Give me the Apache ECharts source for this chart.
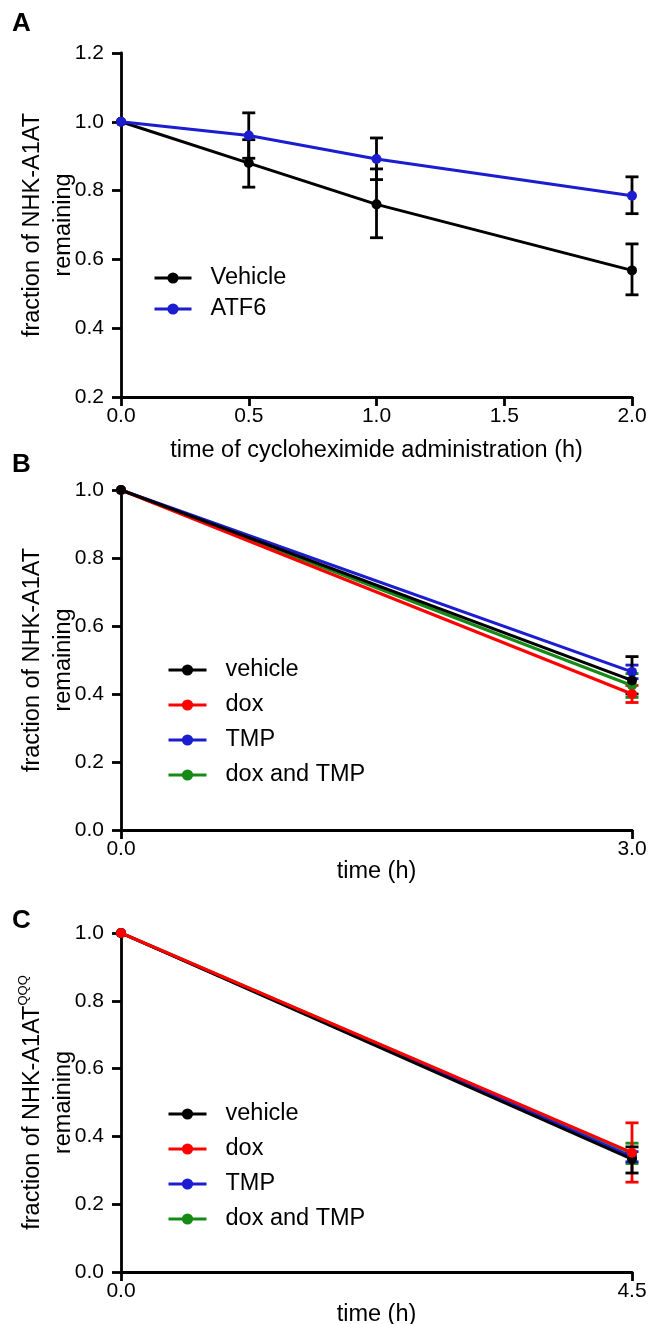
<!DOCTYPE html>
<html>
<head>
<meta charset="utf-8">
<script src="https://cdn.jsdelivr.net/npm/echarts@6/dist/echarts.min.js"></script>
<style>
html,body{margin:0;padding:0;background:#fff;}
#chart{width:650px;height:1324px;}
</style>
</head>
<body>
<div id="chart"></div>
<script>
// ---------- Panel A ----------
const xA = [0, 0.5, 1.0, 2.0];
const vehicleA = [1.0, 0.88, 0.76, 0.568];
const vehicleALo = [null, 0.81, 0.663, 0.497];
const vehicleAHi = [null, 0.948, 0.863, 0.645];
const atf6A = [1.0, 0.96, 0.892, 0.785];
const atf6ALo = [null, 0.894, 0.832, 0.733];
const atf6AHi = [null, 1.026, 0.953, 0.84];

// ---------- Panel B ----------
const xB = [0, 3.0];
const vehicleB = [1.0, 0.44];
const vehicleBLo = [null, 0.40];
const vehicleBHi = [null, 0.51];
const doxB = [1.0, 0.40];
const doxBLo = [null, 0.375];
const doxBHi = [null, 0.425];
const tmpB = [1.0, 0.465];
const tmpBLo = [null, 0.445];
const tmpBHi = [null, 0.485];
const doxTmpB = [1.0, 0.425];
const doxTmpBLo = [null, 0.39];
const doxTmpBHi = [null, 0.46];

// ---------- Panel C ----------
const xC = [0, 4.5];
const vehicleC = [1.0, 0.333];
const vehicleCLo = [null, 0.292];
const vehicleCHi = [null, 0.369];
const doxC = [1.0, 0.352];
const doxCLo = [null, 0.265];
const doxCHi = [null, 0.44];
const tmpC = [1.0, 0.34];
const tmpCLo = [null, 0.325];
const tmpCHi = [null, 0.355];
const doxTmpC = [1.0, 0.35];
const doxTmpCLo = [null, 0.32];
const doxTmpCHi = [null, 0.38];

const legendA = ['Vehicle', 'ATF6'];
const legendBC = ['vehicle', 'dox', 'TMP', 'dox and TMP'];

const FONT = 'Liberation Sans, Arial, Helvetica, sans-serif';
const BLACK = '#000000';
const BLUE = '#1c1cd0';
const RED = '#ff0000';
const GREEN = '#158a15';
const TICK_FS = 21;
const TEXT_FS = 23.5;

const chart = echarts.init(document.getElementById('chart'), null, {renderer: 'canvas'});

function pts(xs, ys) { return xs.map((x, i) => [x, ys[i]]); }
function errPts(xs, lo, hi) {
  const out = [];
  xs.forEach((x, i) => { if (lo[i] != null) out.push([x, lo[i], hi[i]]); });
  return out;
}

function lineSeries(name, xs, ys, color, idx, z) {
  return {
    type: 'line', name: name, data: pts(xs, ys),
    xAxisIndex: idx, yAxisIndex: idx,
    symbol: 'circle', symbolSize: 10, showSymbol: true,
    lineStyle: {color: color, width: 3},
    itemStyle: {color: color},
    z: z, animation: false, silent: true
  };
}

function errSeries(xs, lo, hi, color, idx, z) {
  return {
    type: 'custom', name: '_err', xAxisIndex: idx, yAxisIndex: idx,
    data: errPts(xs, lo, hi), encode: {x: 0, y: [1, 2]},
    z: z, animation: false, silent: true,
    renderItem: function (params, api) {
      const x = api.value(0), lo = api.value(1), hi = api.value(2);
      const p1 = api.coord([x, hi]);
      const p2 = api.coord([x, lo]);
      const w = 6.5;
      const st = {stroke: color, lineWidth: 2.8};
      return {type: 'group', children: [
        {type: 'line', shape: {x1: p1[0], y1: p1[1], x2: p2[0], y2: p2[1]}, style: st},
        {type: 'line', shape: {x1: p1[0] - w, y1: p1[1], x2: p1[0] + w, y2: p1[1]}, style: st},
        {type: 'line', shape: {x1: p2[0] - w, y1: p2[1], x2: p2[0] + w, y2: p2[1]}, style: st}
      ]};
    }
  };
}

const axisLine = {show: true, onZero: false, lineStyle: {color: BLACK, width: 2.8}};
const axisTick = {show: true, inside: false, length: 9, lineStyle: {color: BLACK, width: 2.8}};
const lblStyle = {color: BLACK, fontSize: TICK_FS, fontFamily: FONT};

function xAxisDef(idx, max, interval, name, nameGap) {
  return {
    type: 'value', gridIndex: idx, min: 0, max: max, interval: interval,
    axisLine: axisLine, axisTick: axisTick, splitLine: {show: false},
    axisLabel: Object.assign({margin: 9, formatter: v => v.toFixed(1)}, lblStyle),
    name: name, nameLocation: 'middle', nameGap: nameGap, nameMoveOverlap: false,
    nameTextStyle: {color: BLACK, fontSize: TEXT_FS, fontFamily: FONT}
  };
}
function yAxisDef(idx, min, max, nameObj) {
  return Object.assign({
    type: 'value', gridIndex: idx, min: min, max: max, interval: 0.2,
    axisLine: axisLine, axisTick: axisTick, splitLine: {show: false},
    axisLabel: Object.assign({margin: 17, formatter: v => v.toFixed(1)}, lblStyle),
    nameLocation: 'middle', nameRotate: 90, nameGap: 42, nameMoveOverlap: false
  }, nameObj);
}

const yNamePlain = {
  name: 'fraction of NHK-A1AT\nremaining',
  nameTextStyle: {color: BLACK, fontSize: TEXT_FS, fontFamily: FONT, lineHeight: 31, align: 'center'}
};
const yNameC = {
  name: '{a|fraction of NHK-A1AT}{s|QQQ}\n{a|remaining}',
  nameTextStyle: {
    color: BLACK, fontSize: TEXT_FS, fontFamily: FONT, lineHeight: 31, align: 'center',
    rich: {
      a: {color: BLACK, fontSize: TEXT_FS, fontFamily: FONT, lineHeight: 31},
      s: {color: BLACK, fontSize: 13, fontFamily: FONT, lineHeight: 31, verticalAlign: 'top', padding: [0, 0, 14, 0]}
    }
  }
};

function legendDef(data, left, top, gap, itemW) {
  return {
    data: data, orient: 'vertical', left: left, top: top,
    itemGap: gap, itemWidth: itemW, itemHeight: 14,
    lineStyle: {width: 3},
    textStyle: {color: BLACK, fontSize: TEXT_FS, fontFamily: FONT, lineHeight: 23, padding: [0, 0, 0, 14]},
    selectedMode: false, padding: 0
  };
}

const gridBase = {outerBoundsMode: 'none', containLabel: false};

const option = {
  backgroundColor: '#ffffff',
  animation: false,
  grid: [
    Object.assign({left: 121, top: 53, width: 511, height: 344}, gridBase),
    Object.assign({left: 121, top: 490, width: 511, height: 340}, gridBase),
    Object.assign({left: 121, top: 933, width: 511, height: 339}, gridBase)
  ],
  xAxis: [
    xAxisDef(0, 2.0, 0.5, 'time of cycloheximide administration (h)', 42),
    xAxisDef(1, 3.0, 3.0, 'time (h)', 30),
    xAxisDef(2, 4.5, 4.5, 'time (h)', 31)
  ],
  yAxis: [
    yAxisDef(0, 0.2, 1.2, yNamePlain),
    yAxisDef(1, 0, 1.0, yNamePlain),
    yAxisDef(2, 0, 1.0, yNameC)
  ],
  legend: [
    legendDef(legendA, 153, 266, 7, 37),
    legendDef(legendBC, 167, 658, 11, 38),
    legendDef(legendBC, 167, 1102, 11, 38)
  ],
  graphic: [
    {type: 'text', left: 12, top: 11, style: {text: 'A', fill: BLACK, font: 'bold 26px ' + FONT}},
    {type: 'text', left: 12, top: 452, style: {text: 'B', fill: BLACK, font: 'bold 26px ' + FONT}},
    {type: 'text', left: 12, top: 908, style: {text: 'C', fill: BLACK, font: 'bold 26px ' + FONT}}
  ],
  series: [
    // Panel A
    errSeries(xA, vehicleALo, vehicleAHi, BLACK, 0, 3),
    errSeries(xA, atf6ALo, atf6AHi, BLACK, 0, 3),
    lineSeries('Vehicle', xA, vehicleA, BLACK, 0, 4),
    lineSeries('ATF6', xA, atf6A, BLUE, 0, 5),
    // Panel B
    errSeries(xB, doxTmpBLo, doxTmpBHi, GREEN, 1, 2),
    errSeries(xB, tmpBLo, tmpBHi, BLUE, 1, 2),
    errSeries(xB, doxBLo, doxBHi, RED, 1, 2),
    errSeries(xB, vehicleBLo, vehicleBHi, BLACK, 1, 3),
    lineSeries('dox and TMP', xB, doxTmpB, GREEN, 1, 4),
    lineSeries('TMP', xB, tmpB, BLUE, 1, 4),
    lineSeries('dox', xB, doxB, RED, 1, 4),
    lineSeries('vehicle', xB, vehicleB, BLACK, 1, 5),
    // Panel C
    errSeries(xC, doxTmpCLo, doxTmpCHi, GREEN, 2, 2),
    errSeries(xC, tmpCLo, tmpCHi, BLUE, 2, 2),
    errSeries(xC, doxCLo, doxCHi, RED, 2, 2),
    errSeries(xC, vehicleCLo, vehicleCHi, BLACK, 2, 3),
    lineSeries('dox and TMP', xC, doxTmpC, GREEN, 2, 4),
    lineSeries('TMP', xC, tmpC, BLUE, 2, 4),
    lineSeries('vehicle', xC, vehicleC, BLACK, 2, 4),
    lineSeries('dox', xC, doxC, RED, 2, 5)
  ]
};
chart.setOption(option);
</script>
</body>
</html>
